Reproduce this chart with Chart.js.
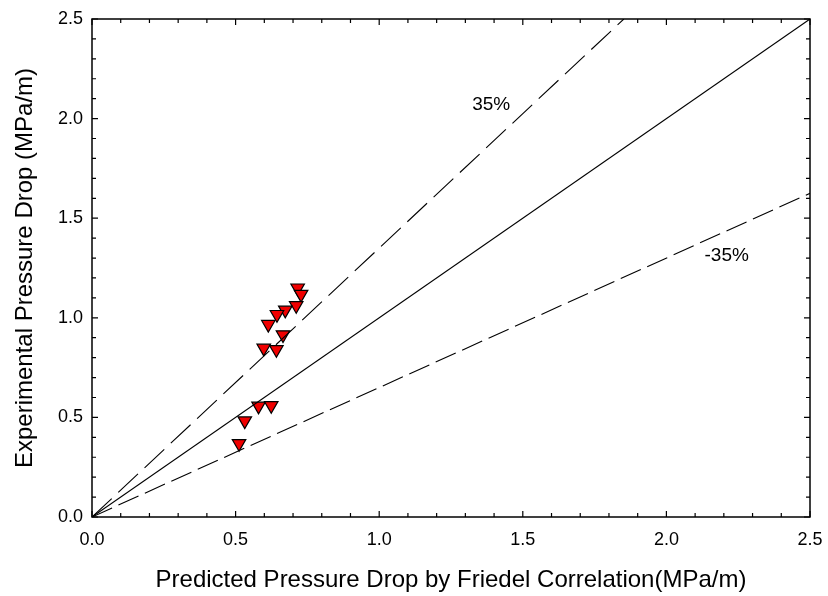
<!DOCTYPE html>
<html>
<head>
<meta charset="utf-8">
<script src="https://cdn.jsdelivr.net/npm/chart.js@4.4.0/dist/chart.umd.min.js"></script>
<style>
  html, body { margin: 0; padding: 0; background: #fff; }
  #wrap { width: 828px; height: 596px; }
</style>
</head>
<body>
<div id="wrap"><canvas id="parityChart" width="828" height="596"></canvas></div>
<script>
// measured points: predicted (Friedel) vs experimental pressure drop, MPa/m
const predicted = [0.716, 0.728, 0.711, 0.673, 0.644, 0.614, 0.665, 0.598, 0.642, 0.580, 0.624, 0.532, 0.512];
const experimental = [1.150, 1.118, 1.062, 1.039, 1.017, 0.967, 0.915, 0.848, 0.841, 0.557, 0.560, 0.483, 0.369];

// reference lines: parity and +/-35% bands
const parityX = [0, 2.5];
const parityY = [0, 2.5];
const plus35X = [0, 2.5 / 1.35];
const plus35Y = [0, 2.5];
const minus35X = [0, 2.5];
const minus35Y = [0, 2.5 * 0.65];

const axisTicks = [0, 0.5, 1.0, 1.5, 2.0, 2.5];
const bandLabels = [
  { text: "35%", x: 1.39, y: 2.07 },
  { text: "-35%", x: 2.21, y: 1.31 }
];

const FONT = "'Liberation Sans', Arial, sans-serif";

const toPoints = (xs, ys) => xs.map((x, i) => ({ x: x, y: ys[i] }));

// frame with inward ticks on all four sides + band labels
const framePlugin = {
  id: "frame",
  afterDraw(chart) {
    const { ctx, chartArea: a, scales } = chart;
    const xs = scales.x, ys = scales.y;
    ctx.save();
    ctx.strokeStyle = "#000";
    ctx.lineWidth = 1.5;
    ctx.strokeRect(a.left, a.top, a.right - a.left, a.bottom - a.top);
    ctx.lineWidth = 1.2;
    ctx.beginPath();
    for (let i = 0; i <= 25; i++) {
      const v = i / 10;
      const len = i % 5 === 0 ? 6 : 4;
      const px = xs.getPixelForValue(v);
      const py = ys.getPixelForValue(v);
      ctx.moveTo(px, a.bottom); ctx.lineTo(px, a.bottom - len);
      ctx.moveTo(px, a.top); ctx.lineTo(px, a.top + len);
      ctx.moveTo(a.left, py); ctx.lineTo(a.left + len, py);
      ctx.moveTo(a.right, py); ctx.lineTo(a.right - len, py);
    }
    ctx.stroke();

    ctx.fillStyle = "#000";
    ctx.font = "19px " + FONT;
    ctx.textAlign = "center";
    ctx.textBaseline = "middle";
    bandLabels.forEach(l => {
      ctx.fillText(l.text, xs.getPixelForValue(l.x), ys.getPixelForValue(l.y));
    });
    ctx.restore();
  }
};

new Chart(document.getElementById("parityChart").getContext("2d"), {
  type: "scatter",
  data: {
    datasets: [
      {
        type: "line",
        data: toPoints(parityX, parityY),
        borderColor: "#000",
        borderWidth: 1.1,
        pointRadius: 0,
        fill: false
      },
      {
        type: "line",
        data: toPoints(plus35X, plus35Y),
        borderColor: "#000",
        borderWidth: 1.1,
        borderDash: [27, 9],
        pointRadius: 0,
        fill: false
      },
      {
        type: "line",
        data: toPoints(minus35X, minus35Y),
        borderColor: "#000",
        borderWidth: 1.1,
        borderDash: [22, 7],
        pointRadius: 0,
        fill: false
      },
      {
        label: "data",
        data: toPoints(predicted, experimental),
        pointStyle: "triangle",
        rotation: 180,
        radius: 7.8,
        backgroundColor: "#f00000",
        borderColor: "#000",
        borderWidth: 1.2
      }
    ]
  },
  options: {
    responsive: false,
    animation: false,
    layout: { padding: { top: 19, right: 18, left: 0, bottom: 0 } },
    plugins: {
      legend: { display: false },
      tooltip: { enabled: false }
    },
    scales: {
      x: {
        type: "linear",
        min: 0,
        max: 2.5,
        afterBuildTicks: s => { s.ticks = axisTicks.map(v => ({ value: v })); },
        afterFit: s => {
          s.height = 79;
          s.paddingLeft = 0;
          s.paddingRight = 0;
        },
        grid: { display: false, drawTicks: false },
        border: { display: false },
        ticks: {
          color: "#000",
          padding: 12,
          font: { family: FONT, size: 18 },
          callback: v => Number(v).toFixed(1)
        },
        title: {
          display: true,
          text: "Predicted Pressure Drop by Friedel Correlation(MPa/m)",
          color: "#000",
          font: { family: FONT, size: 24 },
          padding: { top: 4, bottom: 1 }
        }
      },
      y: {
        type: "linear",
        min: 0,
        max: 2.5,
        afterBuildTicks: s => { s.ticks = axisTicks.map(v => ({ value: v })); },
        afterFit: s => {
          s.width = 92;
          s.paddingTop = 0;
          s.paddingBottom = 0;
        },
        grid: { display: false, drawTicks: false },
        border: { display: false },
        ticks: {
          color: "#000",
          padding: 9,
          font: { family: FONT, size: 18 },
          callback: v => Number(v).toFixed(1)
        },
        title: {
          display: true,
          text: "Experimental Pressure Drop (MPa/m)",
          color: "#000",
          font: { family: FONT, size: 24 },
          padding: { top: 11, bottom: 0 }
        }
      }
    }
  },
  plugins: [framePlugin]
});
</script>
</body>
</html>
